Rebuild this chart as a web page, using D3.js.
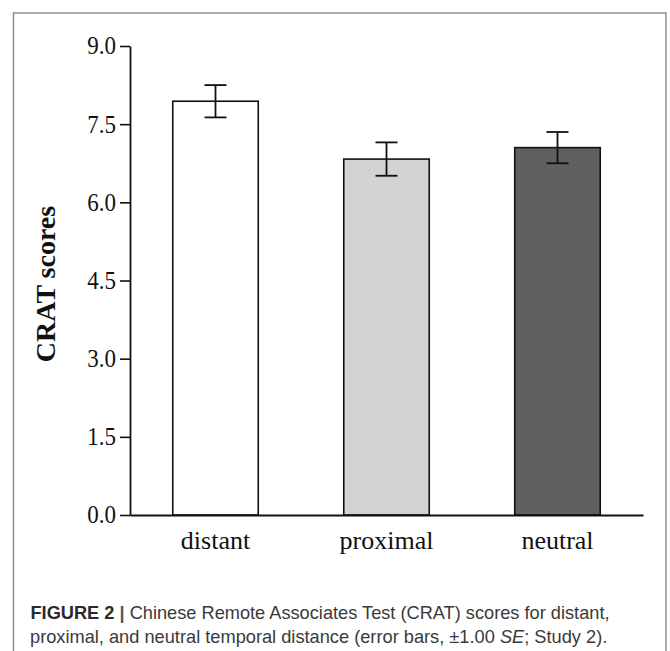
<!DOCTYPE html>
<html>
<head>
<meta charset="utf-8">
<script src="https://cdn.jsdelivr.net/npm/d3@7"></script>
<style>
  html, body { margin: 0; padding: 0; background: #fff; }
  svg { display: block; }
</style>
</head>
<body>
<svg id="chart" width="670" height="651"></svg>
<script>
// ---- data ----
const categories = ["distant", "proximal", "neutral"];
const means = [7.94, 6.83, 7.05];
const standardErrors = [0.31, 0.32, 0.30];
const fills = ["#ffffff", "#d3d3d3", "#5f605f"];
const yTicks = [0.0, 1.5, 3.0, 4.5, 6.0, 7.5, 9.0];
const yLabel = "CRAT scores";
const captionLine1 = [["FIGURE 2", "bold"], [" | ", "sep"], ["Chinese Remote Associates Test (CRAT) scores for distant,", "normal"]];
const captionLine2 = [["proximal, and neutral temporal distance (error bars, \u00b11.00 ", "normal"], ["SE", "italic"], ["; Study 2).", "normal"]];

const svg = d3.select("#chart");

// outer frame (open at bottom)
svg.append("path")
  .attr("d", "M13.5,651 L13.5,13 L666,13 L666,651")
  .attr("fill", "none")
  .attr("stroke", "#8f8f8f")
  .attr("stroke-width", 1.5);

const x = d3.scaleBand()
  .domain(categories)
  .range([130, 643])
  .paddingInner(0.5)
  .paddingOuter(0.25);

const y = d3.scaleLinear().domain([0, 9]).range([515, 46]);

const data = categories.map((c, i) => ({ c, m: means[i], se: standardErrors[i], fill: fills[i] }));

// bars
svg.append("g").selectAll("rect")
  .data(data).join("rect")
  .attr("x", d => x(d.c))
  .attr("y", d => y(d.m))
  .attr("width", x.bandwidth())
  .attr("height", d => y(0) - y(d.m))
  .attr("fill", d => d.fill)
  .attr("stroke", "#111")
  .attr("stroke-width", 1.6);

// error bars
const capW = 11;
const eg = svg.append("g").attr("stroke", "#111").attr("stroke-width", 1.8).attr("fill", "none");
data.forEach(d => {
  const cx = x(d.c) + x.bandwidth() / 2;
  const y1 = y(d.m + d.se), y2 = y(d.m - d.se);
  eg.append("line").attr("x1", cx).attr("x2", cx).attr("y1", y1).attr("y2", y2);
  eg.append("line").attr("x1", cx - capW).attr("x2", cx + capW).attr("y1", y1).attr("y2", y1);
  eg.append("line").attr("x1", cx - capW).attr("x2", cx + capW).attr("y1", y2).attr("y2", y2);
});

// y axis
const yAxis = svg.append("g")
  .attr("transform", "translate(130,0)")
  .call(d3.axisLeft(y).tickValues(yTicks).tickFormat(d3.format(".1f")).tickSize(10).tickSizeOuter(0).tickPadding(4));
yAxis.select(".domain").attr("stroke", "#111").attr("stroke-width", 1.8);
yAxis.selectAll(".tick line").attr("stroke", "#111").attr("stroke-width", 1.6);
yAxis.selectAll(".tick text")
  .attr("font-family", "'Liberation Serif', 'Times New Roman', serif")
  .attr("font-size", 23)
  .attr("transform", "scale(1,1.08)")
  .attr("fill", "#111");

// x axis
const xAxis = svg.append("g")
  .attr("transform", "translate(0,515)")
  .call(d3.axisBottom(x).tickSize(0).tickSizeOuter(0).tickPadding(16));
xAxis.select(".domain").attr("stroke", "#111").attr("stroke-width", 1.8);
xAxis.selectAll(".tick text")
  .attr("font-family", "'Liberation Serif', 'Times New Roman', serif")
  .attr("font-size", 26)
  .attr("fill", "#111");

// y label
svg.append("text")
  .attr("transform", "translate(55,284) rotate(-90)")
  .attr("text-anchor", "middle")
  .attr("font-family", "'Liberation Serif', 'Times New Roman', serif")
  .attr("font-weight", "bold")
  .attr("font-size", 28)
  .attr("fill", "#111")
  .text(yLabel);

// caption
function captionLine(parts, x0, yb, targetRight) {
  const t = svg.append("text")
    .attr("x", x0).attr("y", yb)
    .attr("font-family", "'Liberation Sans', Arial, sans-serif")
    .attr("font-size", 18)
    .attr("fill", "#3a3a3a");
  parts.forEach(([s, style]) => {
    const ts = t.append("tspan").text(s);
    if (style === "bold") ts.attr("font-weight", "bold").attr("fill", "#2a2a2a");
    if (style === "sep") ts.attr("font-weight", "bold").attr("fill", "#555");
    if (style === "italic") ts.attr("font-style", "italic");
  });
  const w = t.node().getComputedTextLength();
  const sx = (targetRight - x0) / w;
  t.attr("transform", `translate(${x0},0) scale(${sx},1) translate(${-x0},0)`);
}
captionLine(captionLine1, 30.5, 619, 610);
captionLine(captionLine2, 30, 643, 607.5);
</script>
</body>
</html>
